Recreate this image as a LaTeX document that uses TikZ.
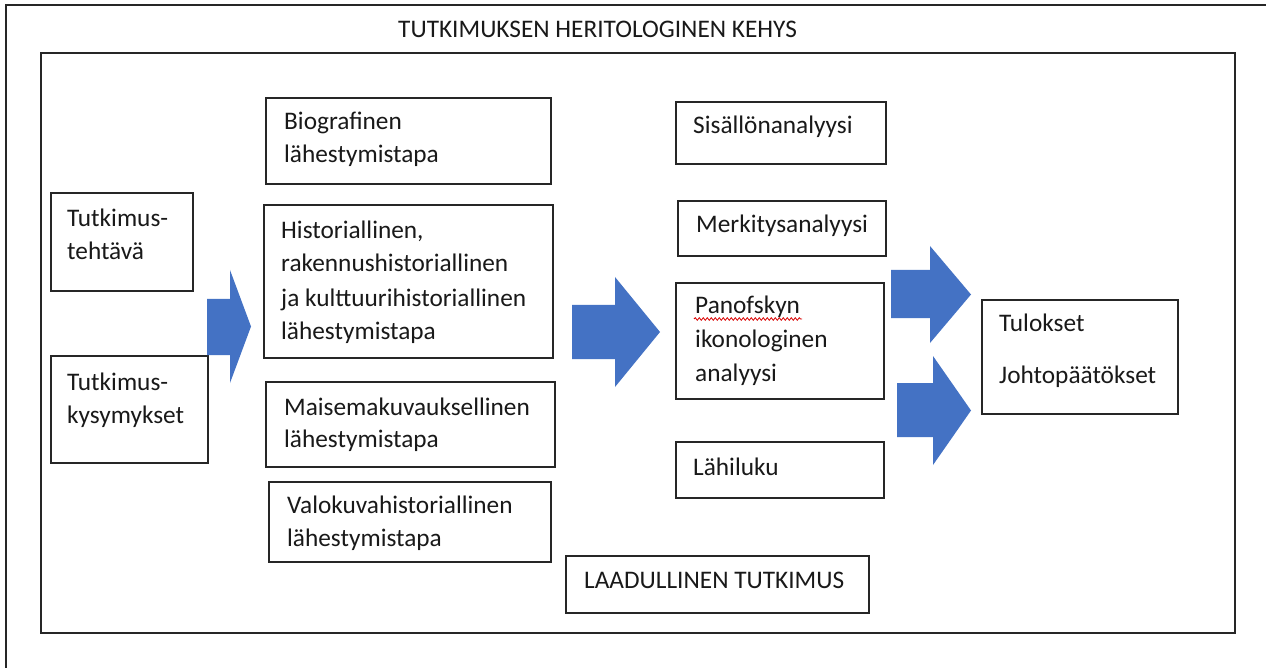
\documentclass[tikz,border=0pt]{standalone}
\usepackage{fontspec}
\setmainfont{Carlito}
\usetikzlibrary{decorations.pathmorphing}
\definecolor{officeblue}{HTML}{4472C4}
\definecolor{linegray}{HTML}{262626}
\tikzset{
  box/.style={draw=linegray, line width=1.5pt, rectangle, inner sep=0pt},
  lbl/.style={anchor=base west, inner sep=0pt, text=black!90, font=\fontsize{25.3}{33}\selectfont},
  blockarrow/.style={fill=officeblue, draw=none},
  spell/.style={draw=red!85!black, line width=0.8pt, decorate, decoration={snake, amplitude=1.3pt, segment length=4pt}}
}
\begin{document}
\begin{tikzpicture}[x=1pt,y=-1pt]
\useasboundingbox (0,0) rectangle (1266,668);
\fill[white] (0,0) rectangle (1266,668);
% outer frame (cropped at right and bottom)
\draw[linegray, line width=1.5pt] (6,668) -- (6,5) -- (1266,5);
\node[lbl] (title) at (398,38) {TUTKIMUKSEN HERITOLOGINEN KEHYS};
% inner frame
\node[box, minimum width=1194pt, minimum height=580pt] (inner) at (638,343) {};
% boxes
\node[box, minimum width=142pt, minimum height=98pt] (teht) at (122,242) {};
\node[box, minimum width=157pt, minimum height=107pt] (kys) at (129.5,409.5) {};
\node[box, minimum width=285pt, minimum height=86pt] (bio) at (408.5,141) {};
\node[box, minimum width=289pt, minimum height=153pt] (hist) at (408.5,281.5) {};
\node[box, minimum width=289pt, minimum height=85pt] (mais) at (410.5,424.5) {};
\node[box, minimum width=282pt, minimum height=80pt] (valo) at (410,522) {};
\node[box, minimum width=210pt, minimum height=62pt] (sis) at (781,133) {};
\node[box, minimum width=208pt, minimum height=55pt] (merk) at (782,228.5) {};
\node[box, minimum width=208pt, minimum height=116pt] (pan) at (780,341) {};
\node[box, minimum width=208pt, minimum height=56pt] (lahi) at (780,470) {};
\node[box, minimum width=196pt, minimum height=114pt] (tul) at (1080,357) {};
\node[box, minimum width=303pt, minimum height=57pt] (laad) at (717.5,584.5) {};
% texts
\node[lbl] (t1a) at (67,227) {Tutkimus-};
\node[lbl] (t1b) at (67,260) {tehtävä};
\node[lbl] (t2a) at (67,390) {Tutkimus-};
\node[lbl] (t2b) at (67,423) {kysymykset};
\node[lbl] (b1) at (284,130) {Biografinen};
\node[lbl] (b2) at (284,163) {lähestymistapa};
\node[lbl] (h1) at (281,239) {Historiallinen,};
\node[lbl] (h2) at (281,272) {rakennushistoriallinen};
\node[lbl] (h3) at (281,306) {ja kulttuurihistoriallinen};
\node[lbl] (h4) at (281,339) {lähestymistapa};
\node[lbl] (m1) at (284,415) {Maisemakuvauksellinen};
\node[lbl] (m2) at (284,447) {lähestymistapa};
\node[lbl] (v1) at (287,513) {Valokuvahistoriallinen};
\node[lbl] (v2) at (287,546) {lähestymistapa};
\node[lbl] (s1) at (693,134) {Sisällönanalyysi};
\node[lbl] (k1) at (696,233) {Merkitysanalyysi};
\node[lbl] (p1) at (695,313) {Panofskyn};
\node[lbl] (p2) at (695,347) {ikonologinen};
\node[lbl] (p3) at (695,381) {analyysi};
\node[lbl] (l1) at (693,475) {Lähiluku};
\node[lbl] (r1) at (999,331) {Tulokset};
\node[lbl] (r2) at (999,383) {Johtopäätökset};
\node[lbl] (q1) at (584,588) {LAADULLINEN TUTKIMUS};
% spell-check underline
\coordinate (w1) at (694,319);
\coordinate (w2) at (802,319);
\draw[spell] (w1) -- (w2);
% block arrows
\fill[blockarrow] (207,299) -- (230,299) -- (230,270) -- (251,326.5) -- (230,383) -- (230,355) -- (207,355) -- cycle;
\fill[blockarrow] (572,305) -- (615,305) -- (615,277) -- (660,332) -- (615,387) -- (615,359) -- (572,359) -- cycle;
\fill[blockarrow] (891,270) -- (930,270) -- (930,246) -- (971,294.5) -- (930,343) -- (930,318) -- (891,318) -- cycle;
\fill[blockarrow] (897,383) -- (933,383) -- (933,356) -- (971,410.5) -- (933,465) -- (933,437) -- (897,437) -- cycle;
\end{tikzpicture}
\end{document}
